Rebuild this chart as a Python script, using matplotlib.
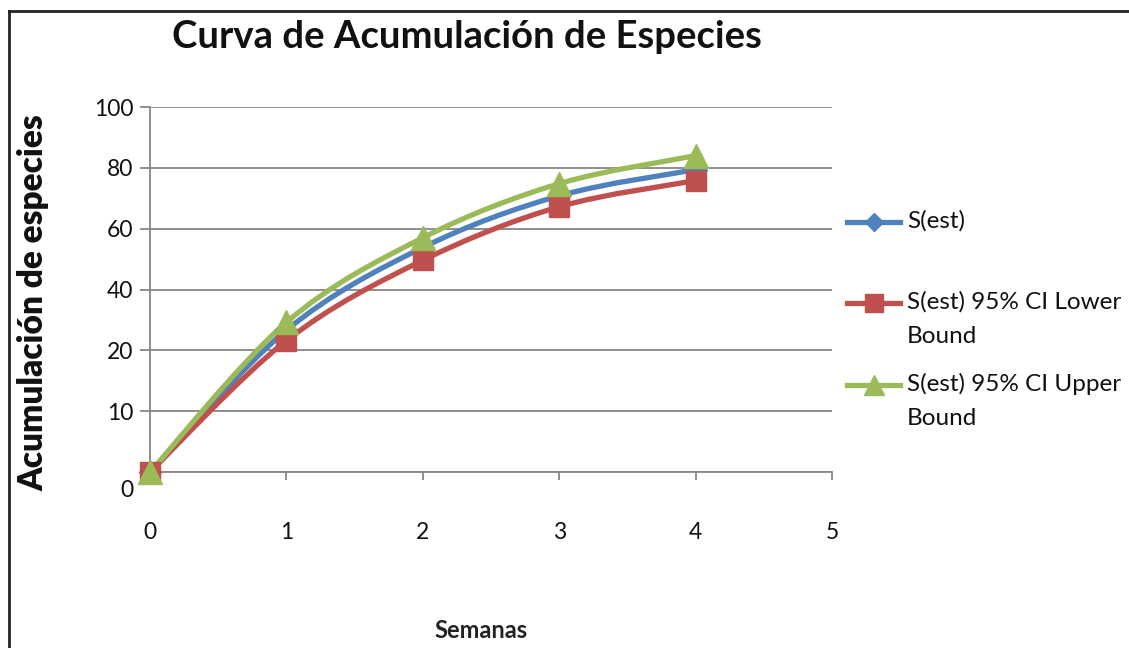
import numpy as np
import matplotlib.pyplot as plt
from matplotlib.path import Path
from matplotlib.patches import PathPatch
from matplotlib.lines import Line2D
import matplotlib.transforms as mtransforms

plt.rcParams['font.family'] = ['Lato', 'DejaVu Sans']

# data (y in axis grid units: one gridline = 20)
semanas = [0, 1, 2, 3, 4]
s_est = [0, 46.6, 73.8, 90.8, 99.4]
s_lower = [0, 43.2, 69.6, 87.2, 95.8]
s_upper = [0, 49.2, 77.0, 94.8, 104.0]
ytick_pos = [0, 20, 40, 60, 80, 100, 120]
ytick_labels = ['0', '10', '20', '40', '60', '80', '100']
xtick_pos = [0, 1, 2, 3, 4, 5]
series_names = ['S(est)', 'S(est) 95% CI Lower\nBound', 'S(est) 95% CI Upper\nBound']

colors = ['#4F81BD', '#C0504D', '#9BBB59']
markers = ['D', 's', '^']
msizes = [11, 15, 17]
grid_c = '#868686'


def smooth_path(x, y):
    # Catmull-Rom style bezier segments, like the spreadsheet "smoothed line"
    pts = np.column_stack([x, y]).astype(float)
    n = len(pts)
    verts = [pts[0]]
    codes = [Path.MOVETO]
    for i in range(n - 1):
        p0 = pts[i - 1] if i > 0 else pts[i]
        p1 = pts[i]
        p2 = pts[i + 1]
        p3 = pts[i + 2] if i + 2 < n else pts[i + 1]
        c1 = p1 + (p2 - p0) / 6.0
        c2 = p2 - (p3 - p1) / 6.0
        verts += [c1, c2, p2]
        codes += [Path.CURVE4] * 3
    return Path(verts, codes)


fig = plt.figure(figsize=(11.29, 6.48), dpi=100)
ax = fig.add_axes([150 / 1129, 1 - 472 / 648, (832 - 150) / 1129, (472 - 107) / 648])

for vals, c, m, ms in zip([s_est, s_lower, s_upper], colors, markers, msizes):
    patch = PathPatch(smooth_path(semanas, vals), fill=False, edgecolor=c, lw=3.8,
                      capstyle='round', joinstyle='round', zorder=3)
    ax.add_patch(patch)
    ax.plot(semanas, vals, linestyle='none', marker=m, markersize=ms, color=c,
            markeredgecolor=c, clip_on=False, zorder=4)

ax.set_xlim(0, 5)
ax.set_ylim(0, 120)
ax.set_xticks(xtick_pos)
ax.set_yticks(ytick_pos)
ax.set_yticklabels(ytick_labels)
ax.yaxis.grid(True, color=grid_c, lw=1.3)
ax.set_axisbelow(True)

for s in ['top', 'right']:
    ax.spines[s].set_visible(False)
for s in ['left', 'bottom']:
    ax.spines[s].set_color(grid_c)
    ax.spines[s].set_linewidth(1.3)

ax.tick_params(axis='y', length=7, width=1.3, color=grid_c, pad=5, labelsize=16.5,
               labelcolor='#111111')
ax.tick_params(axis='x', direction='out', length=6, width=1.3, color=grid_c, pad=30,
               labelsize=16.5, labelcolor='#111111')

# the 0 label sits a bit lower than the axis line
zero_lbl = ax.get_yticklabels()[0]
zero_lbl.set_transform(zero_lbl.get_transform() +
                       mtransforms.ScaledTranslation(0, -12 / 72, fig.dpi_scale_trans))

fig.text(467 / 1129, 1 - 37 / 648, 'Curva de Acumulación de Especies', ha='center',
         va='center', fontsize=27.5, fontweight='bold', color='#111111')
fig.text(33 / 1129, 1 - 303 / 648, 'Acumulación de especies', ha='center', va='center',
         rotation=90, fontsize=24, fontweight='heavy', color='#111111')
fig.text(481 / 1129, 1 - 631 / 648, 'Semanas', ha='center', va='center',
         fontsize=17, fontweight='bold', color='#222222')

# legend drawn by hand so markers line up with the first text line
leg_y = [222, 303, 385]
for yy, name, c, m, ms in zip(leg_y, series_names, colors, markers, msizes):
    fy = 1 - yy / 648
    fig.add_artist(Line2D([847 / 1129, 900 / 1129], [fy, fy], color=c, lw=3.8,
                          transform=fig.transFigure))
    fig.add_artist(Line2D([873.5 / 1129], [fy], marker=m, markersize=ms * 0.85, color=c,
                          transform=fig.transFigure))
    fig.text(907 / 1129, fy + 0.018, name, ha='left', va='top', fontsize=17.5,
             linespacing=1.75, color='#111111')

# outer frame
fig.add_artist(Line2D([9 / 1129, 9 / 1129], [0, 1 - 11 / 648], color='#222222', lw=2,
                      transform=fig.transFigure))
fig.add_artist(Line2D([9 / 1129, 1], [1 - 11 / 648, 1 - 11 / 648], color='#222222', lw=2,
                      transform=fig.transFigure))

fig.savefig('out.png', dpi=100)
